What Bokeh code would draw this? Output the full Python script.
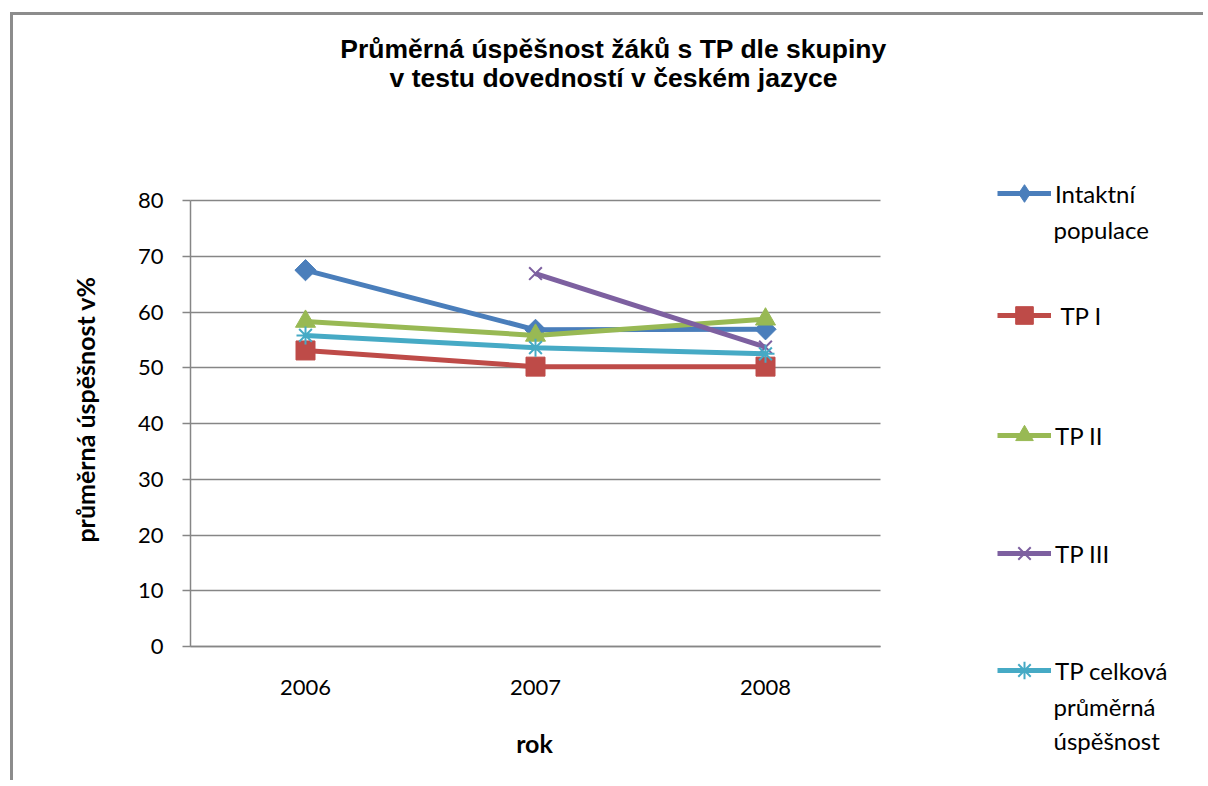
import numpy as np
from bokeh.plotting import figure
from bokeh.models import (ColumnDataSource, Range1d, FixedTicker, Legend, LegendItem, Label, Grid)
from bokeh.embed import file_html
from bokeh.resources import INLINE

# ---- data ----
years = ["2006", "2007", "2008"]
intaktni = [67.5, 56.8, 56.9]
tp_1 = [53.1, 50.2, 50.2]
tp_2 = [58.3, 55.8, 58.7]
tp_3 = [float("nan"), 66.9, 53.7]
tp_celkova = [55.8, 53.6, 52.5]
y_ticks = [0, 10, 20, 30, 40, 50, 60, 70, 80]

series_names = ["Intaktní", " TP I", "TP II", "TP III", "TP celková"]
series_vals = [intaktni, tp_1, tp_2, tp_3, tp_celkova]
colors = ["#4A7EBB", "#BE4B48", "#98B954", "#7D60A0", "#46AAC5"]
markers = ["square", "square", "triangle", "x", "asterisk"]
legend_markers = ["diamond", "square", "triangle", "x", "asterisk"]
angles = [np.pi / 4, 0, 0, 0, 0]
sizes = [15, 19, 20, 18, 18]

TEXT_FONT = "Lato"
TITLE_FONT = "Liberation Sans"
GRAY = "#868686"

# ---- layout (pixels in the picture) ----
OX, OY = 13, 15            # canvas origin (after css margin + border)
W, H = 1193, 768
PLOT_L, PLOT_R, PLOT_T, PLOT_B = 190, 880, 200, 646   # plot area
FR_L, FR_T, FR_R, FR_B = OX, OY, OX + W, OY + H       # frame = whole canvas
ncat = len(years)
px_x = (PLOT_R - PLOT_L) / ncat
px_y = (PLOT_B - PLOT_T) / max(y_ticks)

xpos = list(range(ncat))
x_range = Range1d(-0.5 - (PLOT_L - FR_L) / px_x, -0.5 + (FR_R - PLOT_L) / px_x)
y_range = Range1d(-(FR_B - PLOT_B) / px_y, (PLOT_B - FR_T) / px_y)

p = figure(width=W, height=H, x_range=x_range, y_range=y_range,
           output_backend="svg", toolbar_location=None,
           min_border_left=0, min_border_right=0, min_border_top=0, min_border_bottom=0)
p.title_location = None
p.background_fill_color = "white"
p.border_fill_color = "white"
p.outline_line_color = None
p.styles = {"margin-left": "10px", "margin-top": "12px",
            "border-left": "3px solid #8c8c8c", "border-top": "3px solid #8c8c8c"}

# y axis (drawn at the left edge of the plot area)
p.yaxis.fixed_location = -0.5
p.yaxis.ticker = FixedTicker(ticks=y_ticks)
p.yaxis.bounds = (0, max(y_ticks))
p.yaxis.axis_line_color = GRAY
p.yaxis.axis_line_width = 1.5
p.yaxis.major_tick_line_color = GRAY
p.yaxis.major_tick_line_width = 1.5
p.yaxis.major_tick_out = 8
p.yaxis.major_tick_in = 0
p.yaxis.minor_tick_line_color = None
p.yaxis.major_label_standoff = 19
p.yaxis.major_label_text_font = TEXT_FONT
p.yaxis.major_label_text_font_size = "22px"
p.yaxis.major_label_text_color = "black"

# x axis (drawn at y = 0)
p.xaxis.fixed_location = 0
p.xaxis.ticker = FixedTicker(ticks=xpos)
p.xaxis.major_label_overrides = {i: y for i, y in zip(xpos, years)}
p.xaxis.bounds = (-0.5, ncat - 0.5)
p.xaxis.axis_line_color = GRAY
p.xaxis.axis_line_width = 1.5
p.xaxis.major_tick_line_color = None
p.xaxis.major_tick_out = 0
p.xaxis.major_tick_in = 0
p.xaxis.minor_tick_line_color = None
p.xaxis.major_label_standoff = 33
p.xaxis.major_label_text_font = TEXT_FONT
p.xaxis.major_label_text_font_size = "22px"
p.xaxis.major_label_text_color = "black"

# grid
p.xgrid.grid_line_color = None
p.ygrid.ticker = FixedTicker(ticks=y_ticks)
p.ygrid.grid_line_color = GRAY
p.ygrid.grid_line_width = 1.5
if "cross_bounds" in Grid.properties():
    p.ygrid.cross_bounds = (-0.5, ncat - 0.5)
else:
    p.ygrid.grid_line_color = None
    p.segment(x0=[-0.5] * len(y_ticks), x1=[ncat - 0.5] * len(y_ticks), y0=y_ticks, y1=y_ticks,
              line_color=GRAY, line_width=1.5)

# series
legend_items = []
for name, vals, col, mk, lmk, ang, sz in zip(series_names, series_vals, colors, markers,
                                             legend_markers, angles, sizes):
    src = ColumnDataSource(dict(x=xpos, y=vals))
    lr = p.line("x", "y", source=src, line_color=col, line_width=5, line_join="round")
    key = None
    if lmk != mk:
        # diamond key for the legend, lying hidden under the (rotated square) point marker
        key = p.scatter("x", "y", source=src, marker=lmk, size=19, fill_color=col,
                        line_color=col, line_width=1)
    if mk in ("x", "asterisk"):
        mr = p.scatter("x", "y", source=src, marker=mk, size=sz, line_color=col,
                       line_width=2, angle=ang)
    else:
        mr = p.scatter("x", "y", source=src, marker=mk, size=sz, fill_color=col,
                       line_color=col, line_width=1, angle=ang)
    legend_items.append(LegendItem(label=name, renderers=[lr, key if key is not None else mr]))

def sx(img_x):
    return img_x - FR_L

def sy(img_y):
    return FR_B - img_y

# one legend per entry, glyph centred on the given picture row
GLYPH_H = 44
legend_rows = [193, 315, 435, 553, 670]
for item, row in zip(legend_items, legend_rows):
    lg = Legend(items=[item], location=(sx(997), sy(row + GLYPH_H / 2)), orientation="vertical",
                glyph_width=54, glyph_height=GLYPH_H, label_standoff=4,
                padding=0, margin=0, spacing=0,
                border_line_color=None, background_fill_alpha=0,
                label_text_font=TEXT_FONT, label_text_font_size="24px",
                label_text_color="black")
    p.add_layout(lg)

def add_label(text, img_x, img_y, size, font, bold=False, align="left", angle=0):
    p.add_layout(Label(text=text, x=sx(img_x), y=sy(img_y), x_units="screen", y_units="screen",
                       text_font=font, text_font_size=size, angle=angle,
                       text_font_style="bold" if bold else "normal",
                       text_align=align, text_baseline="middle", text_color="black"))

# second lines of the legend entries
add_label("populace", 1053, 229, "24px", TEXT_FONT)
add_label("průměrná", 1053, 706, "24px", TEXT_FONT)
add_label("úspěšnost", 1053, 740, "24px", TEXT_FONT)

# chart title
add_label("Průměrná úspěšnost žáků s TP dle skupiny", 613, 48, "26.5px", TITLE_FONT, bold=True, align="center")
add_label("v testu dovedností v českém jazyce", 613, 77, "26.5px", TITLE_FONT, bold=True, align="center")

# axis titles
add_label("průměrná úspěšnost v%", 84, 409, "25px", TEXT_FONT, bold=True, align="center", angle=np.pi / 2)
add_label("rok", 534, 742, "25px", TEXT_FONT, bold=True, align="center")

open("out.html", "w").write(file_html(p, INLINE))
